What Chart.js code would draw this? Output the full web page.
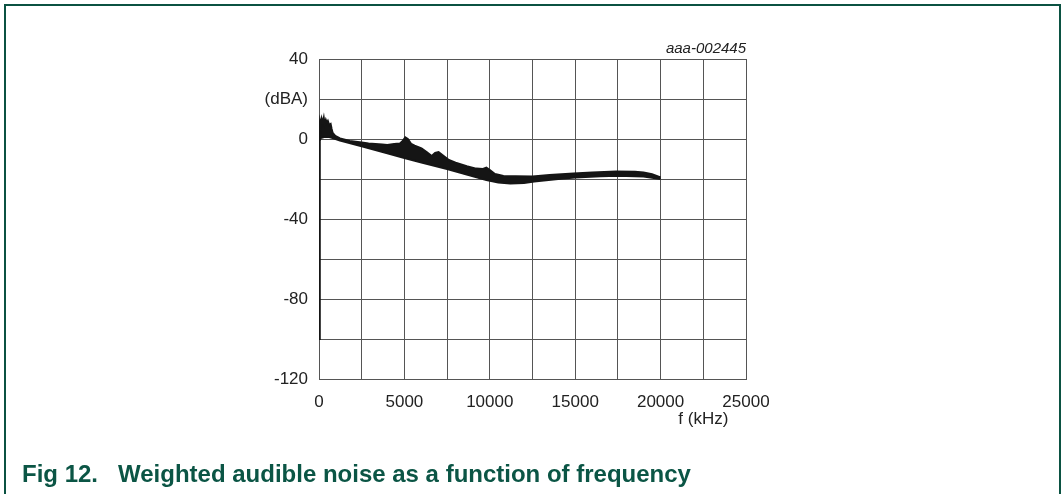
<!DOCTYPE html>
<html>
<head>
<meta charset="utf-8">
<script src="https://cdn.jsdelivr.net/npm/chart.js@4.4.0/dist/chart.umd.min.js"></script>
<style>
  html, body { margin: 0; padding: 0; background: #fff; }
  #wrap { position: relative; width: 1061px; height: 494px; overflow: hidden; }
  #frame {
    position: absolute; left: 4px; top: 4px; width: 1053px; height: 520px;
    border: 2px solid #0b5242; border-bottom: none;
  }
  #chart { position: absolute; left: 0; top: 0; }
  .cap {
    position: absolute; top: 460px; line-height: 24px;
    font: bold 24px 'Liberation Sans', Arial, sans-serif;
    color: #0b5545; white-space: pre;
  }
</style>
</head>
<body>
<div id="wrap">
  <div id="frame"></div>
  <canvas id="chart" width="1061" height="494"></canvas>
  <div class="cap" style="left:22px">Fig 12.</div>
  <div class="cap" style="left:118px">Weighted audible noise as a function of frequency</div>
</div>
<script>
// upper edge of the noise band (f as plotted, dBA)
const upperFreq = [0, 20, 60, 110, 160, 220, 280, 330, 400, 460, 520, 600, 680, 740, 800, 950, 1230, 1800, 2500, 2900, 3300, 3700, 4000, 4400, 4740, 4900, 5050, 5200, 5400, 5600, 6000, 6300, 6600, 6800, 7000, 7300, 7600, 8000, 8650, 9200, 9600, 9800, 10000, 10300, 10800, 11500, 12500, 13500, 14900, 16000, 17400, 18500, 19000, 19500, 20000];
const upperDba = [-100, 5, 9, 7, 10, 8, 10.5, 7.5, 9.5, 8, 9, 7, 7.5, 5, 3, 1.5, 0.3, -1, -1.7, -2.3, -2.5, -2.8, -3, -2.5, -2.2, -1, 0.8, 0, -2.5, -3.3, -4.7, -6.5, -8.5, -7, -6.5, -8.5, -10.5, -11.8, -13.6, -14.8, -15, -14.3, -15.5, -17.5, -18.5, -18.6, -18.8, -18, -17.2, -16.7, -16.3, -16.4, -16.8, -17.6, -19.2];

// lower edge of the noise band
const lowerFreq = [0, 40, 100, 300, 600, 800, 1230, 2500, 4000, 5000, 6000, 7500, 8650, 9800, 10500, 11200, 12000, 12600, 14000, 15000, 16500, 17500, 19000, 20000];
const lowerDba = [-100, -1, 0.5, 1, 1, 0.5, -0.8, -3.7, -7.2, -9.5, -11.8, -15, -17.8, -20.5, -21.8, -22.3, -22, -21.3, -20, -19.2, -18.6, -18.4, -18.8, -20];

const yLabeled = [40, 0, -40, -80, -120];
const yUnitAt = 20;
const xLabeled = [0, 5000, 10000, 15000, 20000, 25000];

const toPoints = (xs, ys) => xs.map((x, i) => ({ x: x, y: ys[i] }));

const extraText = {
  id: 'extraText',
  afterDraw(chart) {
    const ctx = chart.ctx;
    const xs = chart.scales.x;
    const area = chart.chartArea;
    ctx.save();
    ctx.fillStyle = '#222';
    ctx.font = "italic 15px 'Liberation Sans', Arial, sans-serif";
    ctx.textAlign = 'right';
    ctx.textBaseline = 'alphabetic';
    ctx.fillText('aaa-002445', area.right, 53);
    ctx.font = "17px 'Liberation Sans', Arial, sans-serif";
    ctx.textAlign = 'center';
    ctx.textBaseline = 'middle';
    ctx.fillText('f (kHz)', xs.getPixelForValue(22500), 419);
    ctx.restore();
  }
};

Chart.defaults.font.family = "'Liberation Sans', Arial, sans-serif";
Chart.defaults.color = '#222';

new Chart(document.getElementById('chart').getContext('2d'), {
  type: 'line',
  data: {
    datasets: [{
      data: toPoints(upperFreq, upperDba),
      borderColor: '#151515',
      borderWidth: 2,
      pointRadius: 0,
      fill: false
    }, {
      data: toPoints(lowerFreq, lowerDba),
      borderColor: '#151515',
      backgroundColor: '#151515',
      borderWidth: 2,
      pointRadius: 0,
      fill: '-1'
    }]
  },
  options: {
    responsive: false,
    animation: false,
    events: [],
    layout: { padding: { left: 0, right: 315, top: 59, bottom: 0 } },
    plugins: { legend: { display: false }, tooltip: { enabled: false } },
    scales: {
      x: {
        type: 'linear',
        min: 0,
        max: 25000,
        afterFit: (s) => { s.height = 115; },
        grid: { color: '#555', lineWidth: 1, drawTicks: false },
        border: { color: '#555', width: 1 },
        ticks: {
          stepSize: 2500,
          padding: 13,
          maxRotation: 0,
          autoSkip: false,
          font: { size: 17 },
          callback: (v) => xLabeled.includes(v) ? String(v) : ''
        }
      },
      y: {
        min: -120,
        max: 40,
        afterFit: (s) => { s.width = 319; },
        grid: { color: '#555', lineWidth: 1, drawTicks: false },
        border: { color: '#555', width: 1 },
        ticks: {
          stepSize: 20,
          padding: 11,
          autoSkip: false,
          font: { size: 17 },
          callback: (v) => v === yUnitAt ? '(dBA)' : (yLabeled.includes(v) ? String(v) : '')
        }
      }
    }
  },
  plugins: [extraText]
});
</script>
</body>
</html>
